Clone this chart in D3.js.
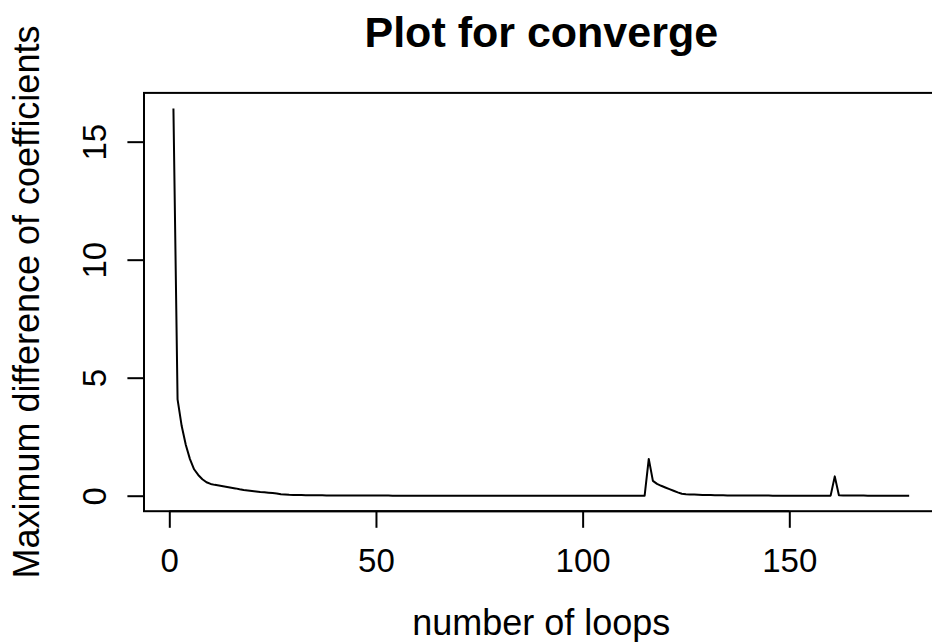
<!DOCTYPE html>
<html>
<head>
<meta charset="utf-8">
<script src="https://cdn.jsdelivr.net/npm/d3@7"></script>
<style>
  html, body { margin: 0; padding: 0; background: #fff; }
  svg { display: block; }
  text { font-family: "Liberation Sans", Arial, Helvetica, sans-serif; fill: #000; }
</style>
</head>
<body>
<svg id="chart" width="932" height="642"></svg>
<script>
// Maximum change of the coefficients at each iteration of the fitting loop
const maxDiff = [
  16.41, 4.08, 2.95, 2.15, 1.55, 1.12, 0.88, 0.70, 0.57, 0.50,
  0.46, 0.43, 0.40, 0.37, 0.34, 0.31, 0.27, 0.24, 0.22, 0.20,
  0.18, 0.16, 0.15, 0.13, 0.11, 0.09, 0.06, 0.05, 0.04, 0.035,
  0.030, 0.027, 0.024, 0.021, 0.019, 0.017, 0.015, 0.013, 0.012, 0.011,
  0.010, 0.009, 0.008, 0.007, 0.007, 0.006, 0.006, 0.005, 0.005, 0.004,
  0.004, 0.004, 0.004, 0.003, 0.003, 0.003, 0.003, 0.003, 0.003, 0.002,
  0.002, 0.002, 0.002, 0.002, 0.002, 0.002, 0.002, 0.002, 0.002, 0.002,
  0.002, 0.002, 0.002, 0.002, 0.002, 0.002, 0.002, 0.002, 0.002, 0.002,
  0.002, 0.002, 0.002, 0.002, 0.002, 0.002, 0.002, 0.002, 0.002, 0.002,
  0.002, 0.002, 0.002, 0.002, 0.002, 0.002, 0.002, 0.002, 0.002, 0.002,
  0.002, 0.002, 0.002, 0.002, 0.002, 0.002, 0.002, 0.002, 0.002, 0.002,
  0.002, 0.002, 0.002, 0.002, 0.002, 1.56, 0.63, 0.50, 0.42, 0.35,
  0.28, 0.21, 0.14, 0.08, 0.065, 0.055, 0.047, 0.040, 0.034, 0.029,
  0.025, 0.021, 0.018, 0.015, 0.013, 0.011, 0.009, 0.008, 0.007, 0.006,
  0.005, 0.005, 0.004, 0.004, 0.004, 0.003, 0.003, 0.003, 0.003, 0.003,
  0.002, 0.002, 0.002, 0.002, 0.002, 0.002, 0.002, 0.002, 0.002, 0.002,
  0.82, 0.020, 0.012, 0.008, 0.006, 0.005, 0.004, 0.004, 0.003, 0.003,
  0.003, 0.002, 0.002, 0.002, 0.002, 0.002, 0.002, 0.002, 0.002
];
const loops = maxDiff.map((_, i) => i + 1);

const xTicks = [0, 50, 100, 150];
const yTicks = [0, 5, 10, 15];

const titleText = "Plot for converge";
const xLabel = "number of loops";
const yLabel = "Maximum difference of coefficients";

// plot region (base-graphics style layout)
const plot = { left: 144, right: 938.6, top: 92.9, bottom: 511.2 };
const tickLen = 16.6;
const tickFont = 33;
const labelFont = 36;
const titleFont = 43;

// axis ranges padded by 4% on each side
function padded(ext) {
  const d = (ext[1] - ext[0]) * 0.04;
  return [ext[0] - d, ext[1] + d];
}

const x = d3.scaleLinear()
  .domain(padded(d3.extent(loops)))
  .range([plot.left, plot.right]);
const y = d3.scaleLinear()
  .domain(padded([0, d3.max(maxDiff)]))
  .range([plot.bottom, plot.top]);

const svg = d3.select("#chart");

// data line
const line = d3.line()
  .x((d, i) => x(loops[i]))
  .y(d => y(d));

svg.append("path")
  .datum(maxDiff)
  .attr("fill", "none")
  .attr("stroke", "#000")
  .attr("stroke-width", 2)
  .attr("stroke-linejoin", "round")
  .attr("d", line);

// frame around the plot region
svg.append("rect")
  .attr("x", plot.left)
  .attr("y", plot.top)
  .attr("width", plot.right - plot.left)
  .attr("height", plot.bottom - plot.top)
  .attr("fill", "none")
  .attr("stroke", "#000")
  .attr("stroke-width", 2);

// x axis
const xAxis = d3.axisBottom(x)
  .tickValues(xTicks)
  .tickSize(tickLen)
  .tickSizeOuter(0);
const gx = svg.append("g")
  .attr("transform", `translate(0,${plot.bottom})`)
  .call(xAxis);
gx.select(".domain")
  .attr("d", `M${x(xTicks[0])},0H${x(xTicks[xTicks.length - 1])}`)
  .attr("stroke-width", 2);
gx.selectAll(".tick line").attr("stroke-width", 2);
gx.selectAll(".tick text")
  .attr("font-size", tickFont)
  .attr("font-family", "Liberation Sans, Arial, sans-serif")
  .attr("dy", null)
  .attr("y", 571.7 - plot.bottom);

// y axis with rotated labels
const yAxis = d3.axisLeft(y)
  .tickValues(yTicks)
  .tickSize(tickLen)
  .tickSizeOuter(0);
const gy = svg.append("g")
  .attr("transform", `translate(${plot.left},0)`)
  .call(yAxis);
gy.select(".domain")
  .attr("d", `M0,${y(yTicks[0])}V${y(yTicks[yTicks.length - 1])}`)
  .attr("stroke-width", 2);
gy.selectAll(".tick line").attr("stroke-width", 2);
gy.selectAll(".tick text")
  .attr("font-size", tickFont)
  .attr("font-family", "Liberation Sans, Arial, sans-serif")
  .attr("x", null)
  .attr("dy", null)
  .attr("text-anchor", "middle")
  .attr("transform", `translate(${106 - plot.left},0) rotate(-90)`);

// titles
const cx = (plot.left + plot.right) / 2;
const cy = (plot.top + plot.bottom) / 2;

svg.append("text")
  .attr("x", cx)
  .attr("y", 47)
  .attr("text-anchor", "middle")
  .attr("font-size", titleFont)
  .attr("font-weight", "bold")
  .text(titleText);

svg.append("text")
  .attr("x", cx)
  .attr("y", 634.5)
  .attr("text-anchor", "middle")
  .attr("font-size", labelFont)
  .text(xLabel);

svg.append("text")
  .attr("transform", `translate(39.3,${cy}) rotate(-90)`)
  .attr("text-anchor", "middle")
  .attr("font-size", labelFont)
  .text(yLabel);
</script>
</body>
</html>
